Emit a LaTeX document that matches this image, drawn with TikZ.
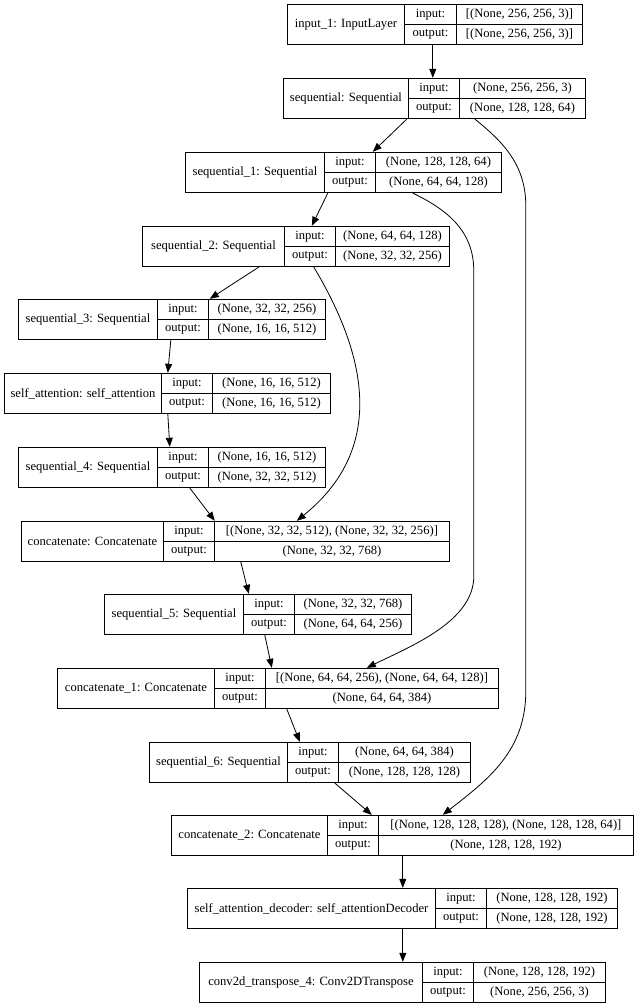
\documentclass[tikz,border=0pt]{standalone}
\usepackage{fontspec}
\setmainfont{Liberation Serif}
\usetikzlibrary{arrows.meta, fit}

\tikzset{
  cell/.style={draw, line width=0.9pt, inner sep=0pt, minimum height=20pt, anchor=north west},
  namecell/.style={cell, minimum height=40pt},
  link/.style={-{Triangle[length=9pt, width=7pt]}, line width=0.8pt},
}

% one keras layer: name, left, top, 1st divider, 2nd divider, right, title, input, output
\newcommand{\kerasbox}[9]{%
  \node[namecell, minimum width={(#4-#2)*1pt}] (#1-name) at (#2,#3) {#7};
  \node[cell, minimum width={(#5-#4)*1pt}] (#1-inl) at (#4,#3) {input:};
  \node[cell, minimum width={(#5-#4)*1pt}] (#1-outl) at (#4,{#3+20}) {output:};
  \node[cell, minimum width={(#6-#5)*1pt}] (#1-inv) at (#5,#3) {#8};
  \node[cell, minimum width={(#6-#5)*1pt}] (#1-outv) at (#5,{#3+20}) {#9};
  \node[fit=(#1-name)(#1-outv), inner sep=0pt] (#1) {};
}

\begin{document}
\begin{tikzpicture}[x=1pt, y=-1pt, font=\fontsize{12.6}{15}\selectfont]

\fill[white] (0,0) rectangle (637,1008);
\useasboundingbox (0,0) rectangle (637,1008);

% ---------- layers ----------
\kerasbox{inp}{287}{4}{404}{456}{582}{input\_1: InputLayer}{[(None, 256, 256, 3)]}{[(None, 256, 256, 3)]}
\kerasbox{seq}{283}{78}{408}{459}{585}{sequential: Sequential}{(None, 256, 256, 3)}{(None, 128, 128, 64)}
\kerasbox{seqa}{185}{152}{324}{375}{501}{sequential\_1: Sequential}{(None, 128, 128, 64)}{(None, 64, 64, 128)}
\kerasbox{seqb}{142}{226}{284}{335}{449}{sequential\_2: Sequential}{(None, 64, 64, 128)}{(None, 32, 32, 256)}
\kerasbox{seqc}{18}{299}{157}{208}{325}{sequential\_3: Sequential}{(None, 32, 32, 256)}{(None, 16, 16, 512)}
\kerasbox{satt}{4}{373}{161}{212}{330}{self\_attention: self\_attention}{(None, 16, 16, 512)}{(None, 16, 16, 512)}
\kerasbox{seqd}{18}{447}{157}{208}{325}{sequential\_4: Sequential}{(None, 16, 16, 512)}{(None, 32, 32, 512)}
\kerasbox{cat}{21}{521}{163}{214}{449}{concatenate: Concatenate}{[(None, 32, 32, 512), (None, 32, 32, 256)]}{(None, 32, 32, 768)}
\kerasbox{seqe}{104}{594}{243}{294}{411}{sequential\_5: Sequential}{(None, 32, 32, 768)}{(None, 64, 64, 256)}
\kerasbox{cata}{57}{668}{214}{265}{498}{concatenate\_1: Concatenate}{[(None, 64, 64, 256), (None, 64, 64, 128)]}{(None, 64, 64, 384)}
\kerasbox{seqf}{149}{742}{287}{338}{470}{sequential\_6: Sequential}{(None, 64, 64, 384)}{(None, 128, 128, 128)}
\kerasbox{catb}{171}{815}{327}{378}{633}{concatenate\_2: Concatenate}{[(None, 128, 128, 128), (None, 128, 128, 64)]}{(None, 128, 128, 192)}
\kerasbox{dec}{187}{888}{435}{486}{617}{self\_attention\_decoder: self\_attentionDecoder}{(None, 128, 128, 192)}{(None, 128, 128, 192)}
\kerasbox{conv}{199}{962}{422}{473}{605}{conv2d\_transpose\_4: Conv2DTranspose}{(None, 128, 128, 192)}{(None, 256, 256, 3)}

% ---------- main flow ----------
\draw[link] ([xshift=146pt]inp.south west) -- ([xshift=150pt]seq.north west);
\draw[link] ([xshift=124pt]seq.south west) -- ([xshift=188pt]seqa.north west);
\draw[link] ([xshift=143pt]seqa.south west) -- ([xshift=170pt]seqb.north west);
\draw[link] ([xshift=117pt]seqb.south west) -- ([xshift=192pt]seqc.north west);
\draw[link] ([xshift=153pt]seqc.south west) -- ([xshift=164pt]satt.north west);
\draw[link] ([xshift=164pt]satt.south west) -- ([xshift=152pt]seqd.north west);
\draw[link] ([xshift=172pt]seqd.south west) -- ([xshift=194pt]cat.north west);
\draw[link] ([xshift=220pt]cat.south west) -- ([xshift=145pt]seqe.north west);
\draw[link] ([xshift=161pt]seqe.south west) -- ([xshift=215pt]cata.north west);
\draw[link] ([xshift=230pt]cata.south west) -- ([xshift=151pt]seqf.north west);
\draw[link] ([xshift=186pt]seqf.south west) -- ([xshift=201pt]catb.north west);
\draw[link] ([xshift=232pt]catb.south west) -- ([xshift=216pt]dec.north west);
\draw[link] ([xshift=216pt]dec.south west) -- ([xshift=204pt]conv.north west);

% ---------- skip connections ----------
\draw[link] ([xshift=172pt]seqb.south west)
  .. controls +(60,100) and +(83,-67) .. ([xshift=276pt]cat.north west);
\draw[link] ([xshift=228pt]seqa.south west)
  .. controls +(35,17) and +(0,-40) .. ++(61,78) -- ++(0,305)
  .. controls +(0,45) and +(45,-22) .. ([xshift=310pt]cata.north west);
\draw[link] ([xshift=192pt]seq.south west)
  .. controls +(30,24) and +(0,-40) .. ++(51,87) -- ++(0,485)
  .. controls +(0,60) and +(45,-35) .. ([xshift=272pt]catb.north west);

\end{tikzpicture}
\end{document}
